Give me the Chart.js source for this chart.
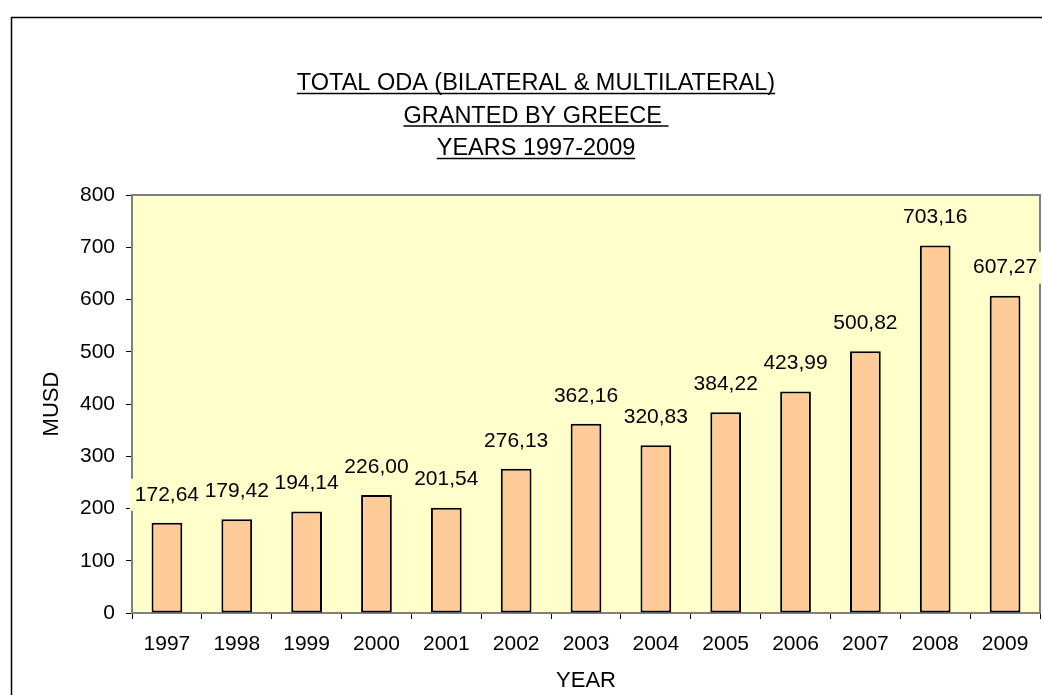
<!DOCTYPE html>
<html>
<head>
<meta charset="utf-8">
<style>
  body { margin: 0; background: #fff; }
  #wrap { width: 1042px; height: 695px; }
</style>
</head>
<body>
<div id="wrap"><canvas id="myChart" width="1042" height="695"></canvas></div>
<script src="https://cdn.jsdelivr.net/npm/chart.js@4.4.0/dist/chart.umd.min.js"></script>
<script>
    // data
    const years = ['1997', '1998', '1999', '2000', '2001', '2002', '2003', '2004', '2005', '2006', '2007', '2008', '2009'];
    const musd = [172.64, 179.42, 194.14, 226.00, 201.54, 276.13, 362.16, 320.83, 384.22, 423.99, 500.82, 703.16, 607.27];
    const titleLines = ['TOTAL ODA (BILATERAL & MULTILATERAL)', 'GRANTED BY GREECE ', 'YEARS 1997-2009'];

    const FONT = '"Liberation Sans", Arial, sans-serif';
    Chart.defaults.font.family = FONT;
    Chart.defaults.font.size = 21;
    Chart.defaults.color = '#000';

    function fmt(v) {
        return v.toFixed(2).replace('.', ',');
    }

    // frame, plot background and border
    const frame = {
        id: 'frame',
        beforeDraw: (chart) => {
            const {ctx, chartArea} = chart;
            ctx.save();
            ctx.fillStyle = '#fff';
            ctx.fillRect(0, 0, chart.width, chart.height);
            ctx.strokeStyle = '#000';
            ctx.lineWidth = 1.5;
            ctx.strokeRect(11.5, 17.5, 1200, 1000);
            ctx.fillStyle = '#FFFFCC';
            ctx.fillRect(chartArea.left, chartArea.top, chartArea.right - chartArea.left, chartArea.bottom - chartArea.top);
            ctx.restore();
        },
        beforeDatasetsDraw: (chart) => {
            const {ctx, chartArea} = chart;
            ctx.save();
            ctx.strokeStyle = '#808080';
            ctx.lineWidth = 2;
            ctx.strokeRect(chartArea.left, chartArea.top, chartArea.right - chartArea.left, chartArea.bottom - chartArea.top);
            ctx.restore();
        }
    };

    // value labels with yellow box, and underlined title
    const labelsAndTitle = {
        id: 'labelsAndTitle',
        afterDatasetsDraw: (chart) => {
            const {ctx} = chart;
            const meta = chart.getDatasetMeta(0);
            ctx.save();
            ctx.font = '21px ' + FONT;
            ctx.textAlign = 'center';
            ctx.textBaseline = 'middle';
            meta.data.forEach((bar, i) => {
                const txt = fmt(musd[i]);
                const w = ctx.measureText(txt).width;
                const y = bar.y - 28;
                ctx.fillStyle = '#FFFFCC';
                ctx.fillRect(bar.x - w / 2 - 5, y - 16, w + 10, 32);
                ctx.fillStyle = '#000';
                ctx.fillText(txt, bar.x, y);
            });
            ctx.restore();
        },
        afterDraw: (chart) => {
            const {ctx} = chart;
            ctx.save();
            ctx.font = '23.5px ' + FONT;
            ctx.textAlign = 'center';
            ctx.textBaseline = 'alphabetic';
            ctx.fillStyle = '#000';
            ctx.strokeStyle = '#000';
            ctx.lineWidth = 1.5;
            const cx = 536;
            titleLines.forEach((line, i) => {
                const base = 90 + i * 32.5;
                ctx.fillText(line, cx, base);
                const w = ctx.measureText(line).width;
                ctx.beginPath();
                ctx.moveTo(cx - w / 2, base + 3.5);
                ctx.lineTo(cx + w / 2, base + 3.5);
                ctx.stroke();
            });
            ctx.restore();
        }
    };

    const chart = new Chart(document.getElementById('myChart'), {
        type: 'bar',
        plugins: [frame, labelsAndTitle],
        data: {
            labels: years,
            datasets: [{
                label: 'MUSD',
                data: musd,
                backgroundColor: '#FFCC99',
                borderColor: '#000',
                borderWidth: 2,
                borderSkipped: false,
                barPercentage: 0.44,
                categoryPercentage: 1
            }]
        },
        options: {
            responsive: false,
            maintainAspectRatio: false,
            animation: false,
            layout: {
                padding: { left: 0, top: 195, right: 2, bottom: 0 }
            },
            plugins: {
                legend: { display: false },
                tooltip: { enabled: false },
                title: { display: false }
            },
            scales: {
                x: {
                    afterFit: (scale) => { scale.height = 82; },
                    grid: { drawOnChartArea: false, drawTicks: true, tickLength: 6, color: '#000', offset: true },
                    border: { display: false },
                    ticks: { padding: 13, font: { size: 21 } },
                    title: { display: true, text: 'YEAR', font: { size: 22 }, padding: { top: 0, bottom: 1 } }
                },
                y: {
                    min: 0,
                    max: 800,
                    afterFit: (scale) => { scale.width = 132; },
                    grid: { drawOnChartArea: false, drawTicks: true, tickLength: 6, color: '#000' },
                    border: { display: false },
                    ticks: { stepSize: 100, padding: 11, font: { size: 21 } },
                    title: { display: true, text: 'MUSD', font: { size: 22 }, padding: { top: 39, bottom: 0 } }
                }
            }
        }
    });
</script>
</body>
</html>
